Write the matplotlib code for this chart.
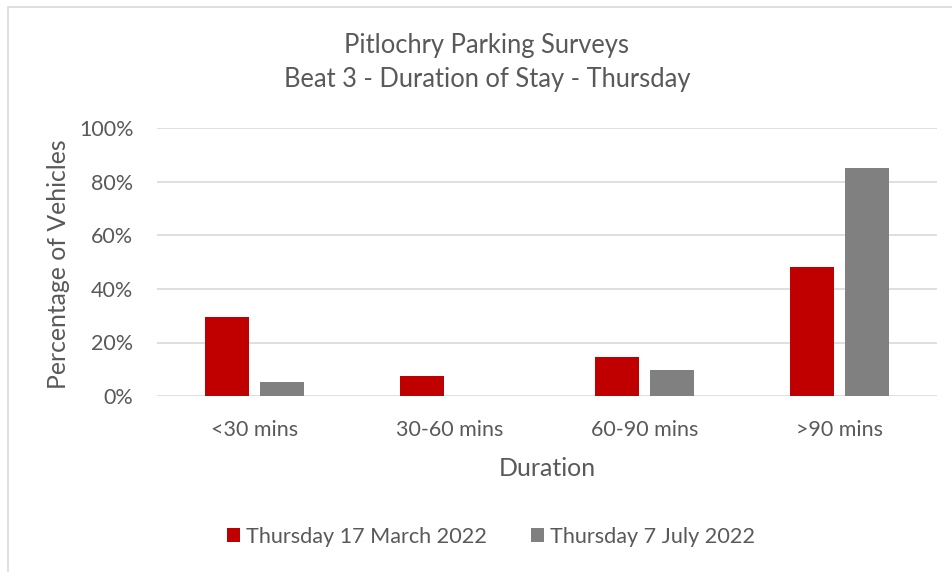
import matplotlib.pyplot as plt
import numpy as np
from matplotlib.patches import Rectangle

categories = ["<30 mins", "30-60 mins", "60-90 mins", ">90 mins"]
march = [29.5, 7.5, 14.6, 48.4]
july = [5.1, 0.0, 9.8, 85.1]
series_labels = ["Thursday 17 March 2022", "Thursday 7 July 2022"]
yticks = [0, 20, 40, 60, 80, 100]

plt.rcParams['font.family'] = ['Lato', 'DejaVu Sans']
text_col = "#595959"

fig = plt.figure(figsize=(9.52, 5.72), dpi=100)
fig.patches.append(Rectangle((7.5 / 952, -0.05), 1.0, 1 - 6.5 / 572 + 0.05,
                             transform=fig.transFigure, fill=False,
                             edgecolor="#d9d9d9", linewidth=1.2))

ax = fig.add_axes([157 / 952, 176 / 572, 780 / 952, 267.5 / 572])
x = np.arange(len(categories))
w = 0.223
ax.bar(x - 0.14, march, w, color="#c00000", label=series_labels[0], zorder=3)
ax.bar(x + 0.14, july, w, color="#808080", label=series_labels[1], zorder=3)

ax.set_xlim(-0.5, len(categories) - 0.5)
ax.set_ylim(0, 100)
ax.set_yticks(yticks)
ax.set_yticklabels([f"{t}%" for t in yticks])
ax.set_xticks(x)
ax.set_xticklabels(categories)
ax.grid(axis="y", color="#d9d9d9", linewidth=1.2, zorder=0)
for s in ax.spines.values():
    s.set_visible(False)
ax.tick_params(length=0, labelsize=15.5, colors=text_col)
ax.tick_params(axis="y", pad=17)
ax.tick_params(axis="x", pad=17)

fig.text(547 / 952, 1 - 468 / 572, "Duration", ha="center", va="center",
         fontsize=18, color=text_col)
fig.text(58 / 952, 1 - 264 / 572, "Percentage of Vehicles", ha="center", va="center",
         rotation=90, fontsize=17.8, color=text_col)

fig.text(487 / 952, 1 - 46 / 572, "Pitlochry Parking Surveys", ha="center", va="center",
         fontsize=18.4, color=text_col)
fig.text(487 / 952, 1 - 79 / 572, "Beat 3 - Duration of Stay - Thursday", ha="center",
         va="center", fontsize=18.4, color=text_col)

fig.legend(loc="center", bbox_to_anchor=(491 / 952, 1 - 537 / 572), ncol=2, frameon=False,
           fontsize=15.6, labelcolor=text_col, handlelength=0.6, handleheight=0.6,
           handletextpad=0.3, columnspacing=2.0)

fig.savefig("out.png", dpi=100)
